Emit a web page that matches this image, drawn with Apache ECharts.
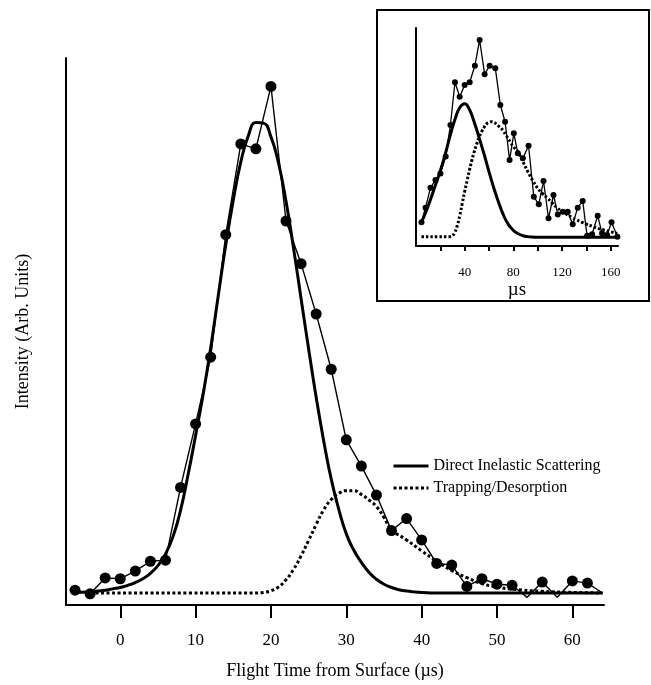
<!DOCTYPE html>
<html>
<head>
<meta charset="utf-8">
<script src="https://cdn.jsdelivr.net/npm/echarts@6/dist/echarts.min.js"></script>
<style>
  html, body { margin: 0; padding: 0; background: #fff; }
  #chart { width: 651px; height: 685px; }
</style>
</head>
<body>
<div id="chart"></div>
<script>
// main plot: measured flight time points
var timeX = [-6, -4, -2, 0, 2, 4, 6, 8, 10, 12, 14, 16, 18, 20, 22, 24, 26, 28, 30, 32, 34,
  36, 38, 40, 42, 44, 46, 48, 50, 52, 54, 56, 58, 60, 62, 64];
var intensity = [2.7, 2.05, 4.95, 4.8, 6.2, 8.0, 8.2, 21.5, 33.1, 45.3, 67.7, 84.3, 83.4, 94.8, 70.2, 62.4, 53.2, 43.1,
  30.2, 25.4, 20.1, 13.6, 15.8, 11.9, 7.6, 7.3, 3.4, 4.8, 3.8, 3.6, 1.4, 4.2, 1.4, 4.4, 4.0, 2.2];

// fit curves
var directX = [-6, -5, -4, -3, -2, -1, 0, 1, 2, 3, 4, 5, 6, 7, 8, 9, 10, 11, 12, 13, 14, 15, 16, 17, 18, 19,
  20, 21, 22, 23, 24, 25, 26, 27, 28, 29, 30, 31, 32, 33, 34, 35, 36, 37, 38, 39, 40, 42, 64];
var directY = [2.3, 2.35, 2.4, 2.55, 2.7, 2.95, 3.2, 3.6, 4.1, 4.8, 5.8, 7.2, 9.3, 12.5, 17.3, 23.8, 31, 38.5,
  47, 56.5, 65.8, 74, 81, 85.8, 88.2, 88.1, 85.6, 80.8, 73.8, 65.2, 56, 46.8, 38, 30, 23, 17.5, 13, 10,
  7.8, 6.0, 4.7, 3.8, 3.2, 2.8, 2.55, 2.4, 2.3, 2.2, 2.2];
var trapX = [-4, 18, 19, 20, 21, 22, 23, 24, 25, 26, 27, 28, 29, 30, 31, 32, 33, 34, 35, 36, 38, 40,
  42, 44, 46, 48, 50, 52, 56, 60, 64];
var trapY = [2.2, 2.2, 2.3, 2.6, 3.3, 4.6, 6.5, 9, 11.8, 14.7, 17.4, 19.3, 20.4, 20.9, 20.9, 20.2, 19.2, 18, 16, 13.8,
  11.9, 9.9, 8.0, 6.3, 5.0, 3.9, 3.3, 2.9, 2.5, 2.3, 2.2];
var mainTicks = [0, 10, 20, 30, 40, 50, 60];
var hiddenMarkX = [54, 58, 64];

// inset
var insetX = [4.5, 7.8, 11.9, 16.0, 20.1, 24.4, 28.3, 32.0, 35.9, 40.0, 44.1, 48.4, 52.3, 56.4, 60.5, 65.2, 69.3,
  73.2, 76.9, 80.4, 83.7, 87.8, 92.5, 96.8, 100.9, 104.8, 108.9, 113.0, 116.5, 120.6, 124.7, 128.8, 132.9,
  137.0, 140.6, 144.7, 149.3, 152.9, 157.0, 160.7, 165.5];
var insetY = [10.9, 17.6, 26.7, 30.3, 33.3, 41.0, 55.5, 75.1, 68.5, 73.9, 75.1, 82.7, 94.5, 78.8, 82.7, 81.5, 64.7,
  57.0, 39.4, 51.7, 42.5, 40.2, 46.0, 22.6, 19.1, 29.8, 12.7, 23.4, 14.5, 15.7, 15.7, 10.0, 17.6,
  20.6, 4.7, 5.4, 13.9, 5.8, 5.0, 10.9, 4.3];
var insetDirectX = [4.5, 8, 12, 16, 20, 24, 28, 32, 36, 40, 44, 48, 52, 56, 60, 64, 68, 72, 76, 80, 84, 88, 92,
  96, 100, 110, 165.5];
var insetDirectY = [10.9, 15.5, 21.5, 28, 34.5, 42, 50.5, 58, 63.5, 65.3, 62.5, 56.5, 49.5, 42, 34, 26.5, 19.8,
  14, 9.8, 7.2, 5.6, 4.7, 4.3, 4.1, 4.0, 4.0, 4.0];
var insetTrapX = [4.5, 28, 30, 32, 34, 36, 38, 40, 42, 44, 46, 48, 50, 52, 54, 56, 58, 60, 62, 64, 66, 68, 70,
  72, 74, 76, 78, 80, 84, 88, 92, 96, 100, 104, 108, 112, 116, 120, 124, 128, 132, 136, 140, 145, 150,
  155, 160, 165.5];
var insetTrapY = [4.3, 4.3, 4.8, 6.3, 9.5, 14, 19.5, 25, 30, 35, 39.5, 43.5, 47, 50, 52.5, 54.5, 56, 56.8, 57,
  56.7, 56, 55, 54, 52.5, 50.8, 49, 47.3, 45.5, 43, 38.5, 34, 30, 26.5, 24, 22, 19.7, 17.5, 16, 14.5, 13.2,
  12, 11, 10, 9, 8, 7.3, 6.5, 5.8];
var insetTicks = [20, 40, 60, 80, 100, 120, 140, 160];
var insetLabels = [40, 80, 120, 160];

function pairs(xs, ys) {
  return xs.map(function (x, i) { return [x, ys[i]]; });
}

var font = 'Liberation Serif';
var myChart = echarts.init(document.getElementById('chart'));

var mainPoints = timeX.map(function (x, i) {
  var p = { value: [x, intensity[i]] };
  if (hiddenMarkX.indexOf(x) >= 0) p.symbol = 'none';
  return p;
});

myChart.setOption({
  animation: false,
  textStyle: { fontFamily: font, color: '#000' },
  legend: {
    data: ['Direct Inelastic Scattering', 'Trapping/Desorption'],
    orient: 'vertical',
    left: 392,
    top: 458,
    padding: 0,
    itemWidth: 35,
    itemHeight: 14,
    itemGap: 6,
    itemStyle: { opacity: 0 },
    lineStyle: { width: 3 },
    textStyle: { fontFamily: font, fontSize: 16, color: '#000' }
  },
  graphic: [{
    type: 'rect',
    shape: { x: 377, y: 10, width: 272, height: 291 },
    style: { fill: 'none', stroke: '#000', lineWidth: 2 },
    silent: true
  }],
  grid: [
    { left: 66, right: 47, top: 58, bottom: 76 },
    { left: 416, right: 33, top: 28, bottom: 439 }
  ],
  xAxis: [{
    gridIndex: 0,
    type: 'value',
    min: -7.2,
    max: 64.2,
    name: 'Flight Time from Surface (\u00b5s)',
    nameLocation: 'middle',
    nameGap: 57,
    nameTextStyle: { fontFamily: font, fontSize: 18, color: '#000' },
    axisLine: { onZero: false, lineStyle: { color: '#000', width: 2 } },
    axisTick: { show: true, length: 13, customValues: mainTicks, lineStyle: { color: '#000', width: 2 } },
    axisLabel: { customValues: mainTicks, margin: 27, fontSize: 17, color: '#000', fontFamily: font },
    splitLine: { show: false }
  }, {
    gridIndex: 1,
    type: 'value',
    min: 0,
    max: 166,
    name: '\u00b5s',
    nameLocation: 'middle',
    nameGap: 35,
    nameTextStyle: { fontFamily: font, fontSize: 19, color: '#000' },
    axisLine: { onZero: false, lineStyle: { color: '#000', width: 2 } },
    axisTick: { show: true, length: 5, customValues: insetTicks, lineStyle: { color: '#000', width: 2 } },
    axisLabel: { customValues: insetLabels, margin: 20, fontSize: 13, color: '#000', fontFamily: font },
    splitLine: { show: false }
  }],
  yAxis: [{
    gridIndex: 0,
    type: 'value',
    min: 0,
    max: 100,
    name: 'Intensity (Arb. Units)',
    nameLocation: 'middle',
    nameGap: 34,
    nameTextStyle: { fontFamily: font, fontSize: 18, color: '#000' },
    axisLine: { show: true, onZero: false, lineStyle: { color: '#000', width: 2 } },
    axisTick: { show: false },
    axisLabel: { show: false },
    splitLine: { show: false }
  }, {
    gridIndex: 1,
    type: 'value',
    min: 0,
    max: 100,
    axisLine: { show: true, onZero: false, lineStyle: { color: '#000', width: 2 } },
    axisTick: { show: false },
    axisLabel: { show: false },
    splitLine: { show: false }
  }],
  series: [{
    name: 'data',
    type: 'line',
    xAxisIndex: 0, yAxisIndex: 0,
    data: mainPoints,
    symbol: 'circle',
    symbolSize: 11,
    itemStyle: { color: '#000' },
    lineStyle: { color: '#000', width: 1.4 },
    z: 3
  }, {
    name: 'Direct Inelastic Scattering',
    type: 'line',
    xAxisIndex: 0, yAxisIndex: 0,
    data: pairs(directX, directY),
    symbol: 'none',
    smooth: true,
    itemStyle: { color: '#000' },
    lineStyle: { color: '#000', width: 3 }
  }, {
    name: 'Trapping/Desorption',
    type: 'line',
    xAxisIndex: 0, yAxisIndex: 0,
    data: pairs(trapX, trapY),
    symbol: 'none',
    smooth: true,
    itemStyle: { color: '#000' },
    lineStyle: { color: '#000', width: 3, type: [3, 2.5] }
  }, {
    name: 'insetData',
    type: 'line',
    xAxisIndex: 1, yAxisIndex: 1,
    data: pairs(insetX, insetY),
    symbol: 'circle',
    symbolSize: 6,
    itemStyle: { color: '#000' },
    lineStyle: { color: '#000', width: 1.3 },
    z: 3
  }, {
    name: 'insetDirect',
    type: 'line',
    xAxisIndex: 1, yAxisIndex: 1,
    data: pairs(insetDirectX, insetDirectY),
    symbol: 'none',
    smooth: true,
    lineStyle: { color: '#000', width: 3 }
  }, {
    name: 'insetTrap',
    type: 'line',
    xAxisIndex: 1, yAxisIndex: 1,
    data: pairs(insetTrapX, insetTrapY),
    symbol: 'none',
    smooth: true,
    lineStyle: { color: '#000', width: 3, type: [2.5, 2] }
  }]
});
</script>
</body>
</html>
